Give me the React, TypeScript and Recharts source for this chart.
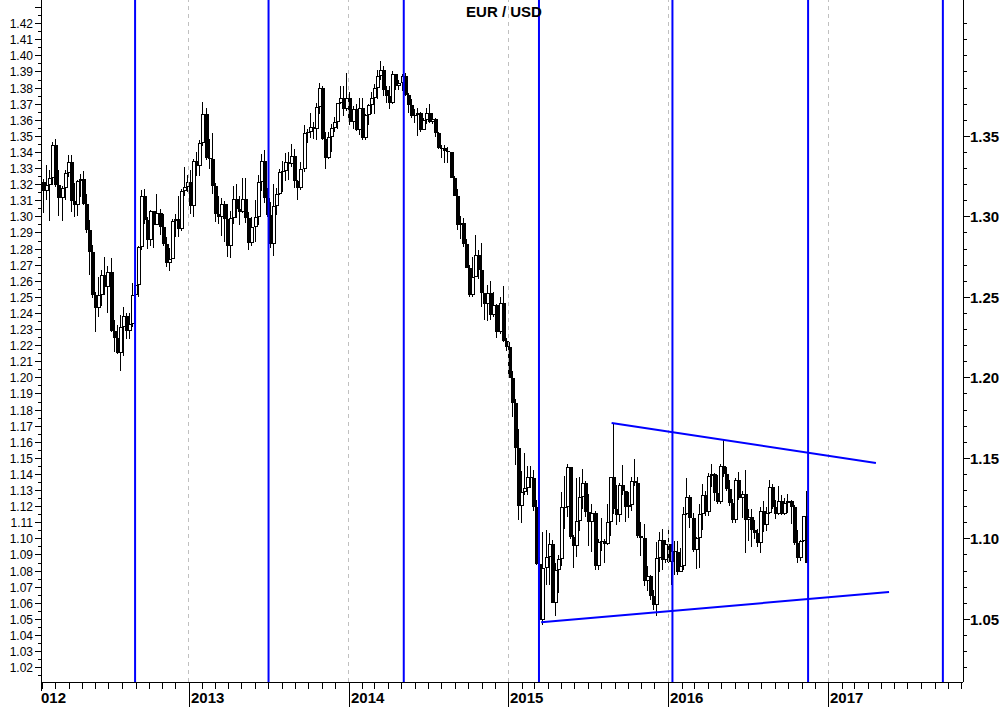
import React from 'react';
import { ComposedChart, Bar, XAxis, YAxis, ReferenceLine } from 'recharts';

// weekly EUR/USD candles, one row per week (Friday close): [high, low, close]
// a week opens where the previous one closed
const FIRST_WEEK = '2012-02-03';
const FIRST_OPEN = 1.3214;

const W2012 = [
  [1.3234, 1.3024, 1.3159], [1.3322, 1.3104, 1.3195], [1.3290, 1.2973, 1.3242], [1.3464, 1.3198, 1.3449],
  [1.3486, 1.3183, 1.3201], [1.3290, 1.3003, 1.3119], [1.3192, 1.2977, 1.3177], [1.3290, 1.3103, 1.3272],
  [1.3386, 1.3245, 1.3343], [1.3383, 1.3033, 1.3097], [1.3212, 1.3002, 1.3073], [1.3230, 1.3005, 1.3223],
  [1.3266, 1.3126, 1.3235], [1.3283, 1.3076, 1.3082], [1.3140, 1.2900, 1.2920], [1.2980, 1.2642, 1.2781],
  [1.2824, 1.2494, 1.2517], [1.2532, 1.2288, 1.2435], [1.2625, 1.2380, 1.2516], [1.2672, 1.2444, 1.2641],
  [1.2748, 1.2516, 1.2567], [1.2693, 1.2406, 1.2660], [1.2747, 1.2288, 1.2289], [1.2360, 1.2163, 1.2247],
  [1.2327, 1.2150, 1.2155], [1.2390, 1.2042, 1.2316], [1.2443, 1.2133, 1.2386], [1.2404, 1.2240, 1.2289],
  [1.2406, 1.2240, 1.2333], [1.2588, 1.2317, 1.2516], [1.2638, 1.2475, 1.2575], [1.2820, 1.2505, 1.2815],
  [1.3169, 1.2793, 1.3128], [1.3172, 1.2954, 1.2980], [1.3000, 1.2802, 1.2857], [1.3045, 1.2822, 1.3036],
  [1.3038, 1.2805, 1.2952], [1.3140, 1.2951, 1.3022], [1.3050, 1.2885, 1.2940], [1.3016, 1.2822, 1.2834],
  [1.2875, 1.2691, 1.2712], [1.2804, 1.2661, 1.2738], [1.2988, 1.2738, 1.2974], [1.3016, 1.2876, 1.2985],
  [1.3128, 1.2876, 1.2925], [1.3176, 1.2910, 1.3162], [1.3308, 1.3130, 1.3183], [1.3262, 1.3156, 1.3219],
];

const W2013 = [
  [1.3293, 1.3018, 1.3068], [1.3360, 1.3000, 1.3345], [1.3403, 1.3256, 1.3314], [1.3480, 1.3256, 1.3459],
  [1.3711, 1.3440, 1.3637], [1.3674, 1.3353, 1.3365], [1.3483, 1.3300, 1.3362], [1.3520, 1.3140, 1.3190],
  [1.3208, 1.2966, 1.3020], [1.3131, 1.2955, 1.3001], [1.3119, 1.2880, 1.3078], [1.3100, 1.2844, 1.2987],
  [1.3077, 1.2749, 1.2818], [1.3035, 1.2745, 1.2994], [1.3190, 1.2954, 1.3112], [1.3205, 1.2996, 1.3048],
  [1.3132, 1.2952, 1.3032], [1.3243, 1.3024, 1.3113], [1.3243, 1.2960, 1.2990], [1.3030, 1.2796, 1.2836],
  [1.2997, 1.2818, 1.2935], [1.3107, 1.2846, 1.2998], [1.3262, 1.2950, 1.3218], [1.3390, 1.3158, 1.3345],
  [1.3416, 1.3087, 1.3117], [1.3177, 1.2999, 1.3010], [1.3092, 1.2807, 1.2830], [1.3207, 1.2755, 1.3066],
  [1.3179, 1.3009, 1.3143], [1.3297, 1.3135, 1.3278], [1.3346, 1.3153, 1.3282], [1.3395, 1.3222, 1.3343],
  [1.3400, 1.3226, 1.3330], [1.3452, 1.3311, 1.3380], [1.3422, 1.3177, 1.3220], [1.3229, 1.3104, 1.3178],
  [1.3340, 1.3166, 1.3296], [1.3569, 1.3280, 1.3524], [1.3546, 1.3460, 1.3525], [1.3646, 1.3487, 1.3556],
  [1.3588, 1.3484, 1.3548], [1.3705, 1.3480, 1.3685], [1.3832, 1.3640, 1.3803], [1.3810, 1.3476, 1.3486],
  [1.3528, 1.3296, 1.3366], [1.3527, 1.3360, 1.3499], [1.3579, 1.3400, 1.3555], [1.3621, 1.3530, 1.3590],
  [1.3710, 1.3543, 1.3706], [1.3810, 1.3700, 1.3741], [1.3812, 1.3624, 1.3673], [1.3893, 1.3660, 1.3740],
];

const W2014 = [
  [1.3777, 1.3573, 1.3590], [1.3688, 1.3548, 1.3670], [1.3700, 1.3536, 1.3540], [1.3739, 1.3506, 1.3677],
  [1.3740, 1.3478, 1.3487], [1.3638, 1.3476, 1.3635], [1.3703, 1.3568, 1.3693], [1.3773, 1.3640, 1.3739],
  [1.3823, 1.3642, 1.3803], [1.3913, 1.3735, 1.3873], [1.3967, 1.3852, 1.3913], [1.3935, 1.3750, 1.3789],
  [1.3815, 1.3705, 1.3752], [1.3811, 1.3673, 1.3705], [1.3905, 1.3700, 1.3886], [1.3890, 1.3787, 1.3814],
  [1.3850, 1.3790, 1.3830], [1.3890, 1.3780, 1.3873], [1.3895, 1.3750, 1.3755], [1.3770, 1.3648, 1.3695],
  [1.3733, 1.3615, 1.3629], [1.3669, 1.3585, 1.3634], [1.3677, 1.3503, 1.3643], [1.3650, 1.3525, 1.3540],
  [1.3614, 1.3538, 1.3603], [1.3678, 1.3574, 1.3645], [1.3700, 1.3583, 1.3592], [1.3648, 1.3579, 1.3607],
  [1.3615, 1.3493, 1.3523], [1.3526, 1.3422, 1.3430], [1.3445, 1.3366, 1.3425], [1.3444, 1.3333, 1.3410],
  [1.3433, 1.3335, 1.3401], [1.3405, 1.3239, 1.3240], [1.3252, 1.3130, 1.3131], [1.3174, 1.2919, 1.2951],
  [1.3004, 1.2860, 1.2960], [1.2995, 1.2814, 1.2830], [1.2860, 1.2680, 1.2684], [1.2700, 1.2500, 1.2515],
  [1.2750, 1.2500, 1.2628], [1.2887, 1.2624, 1.2762], [1.2793, 1.2613, 1.2670], [1.2838, 1.2440, 1.2525],
  [1.2528, 1.2357, 1.2456], [1.2577, 1.2356, 1.2526], [1.2600, 1.2360, 1.2390], [1.2532, 1.2380, 1.2450],
  [1.2456, 1.2246, 1.2287], [1.2500, 1.2270, 1.2466], [1.2570, 1.2220, 1.2226], [1.2250, 1.2165, 1.2189],
];

const W2015 = [
  [1.2220, 1.1998, 1.2001], [1.2040, 1.1754, 1.1842], [1.1867, 1.1460, 1.1566], [1.1680, 1.1115, 1.1204],
  [1.1423, 1.1098, 1.1291], [1.1534, 1.1270, 1.1315], [1.1452, 1.1270, 1.1387], [1.1450, 1.1316, 1.1380],
  [1.1428, 1.1176, 1.1195], [1.1240, 1.0840, 1.0844], [1.0887, 1.0494, 1.0495], [1.1043, 1.0462, 1.0821],
  [1.1052, 1.0715, 1.0888], [1.1035, 1.0711, 1.0970], [1.0990, 1.0600, 1.0600], [1.0848, 1.0521, 1.0808],
  [1.0900, 1.0664, 1.0873], [1.1290, 1.0834, 1.1198], [1.1391, 1.1063, 1.1201], [1.1467, 1.1137, 1.1447],
  [1.1447, 1.1000, 1.1014], [1.1021, 1.0818, 1.0958], [1.1380, 1.0885, 1.1112], [1.1385, 1.1048, 1.1263],
  [1.1436, 1.1188, 1.1350], [1.1360, 1.1134, 1.1165], [1.1279, 1.0955, 1.1107], [1.1215, 1.0916, 1.1160],
  [1.1173, 1.0808, 1.0830], [1.0998, 1.0809, 1.0982], [1.1129, 1.0924, 1.0984], [1.1000, 1.0848, 1.0970],
  [1.1215, 1.0965, 1.1105], [1.1387, 1.1017, 1.1386], [1.1714, 1.1154, 1.1183], [1.1332, 1.1086, 1.1150],
  [1.1344, 1.1104, 1.1336], [1.1460, 1.1274, 1.1298], [1.1300, 1.1105, 1.1200], [1.1290, 1.1132, 1.1210],
  [1.1387, 1.1171, 1.1358], [1.1495, 1.1328, 1.1346], [1.1387, 1.1008, 1.1018], [1.1106, 1.0896, 1.1003],
  [1.1095, 1.0705, 1.0740], [1.0829, 1.0675, 1.0771], [1.0777, 1.0618, 1.0645], [1.0681, 1.0558, 1.0590],
  [1.0981, 1.0524, 1.0880], [1.1043, 1.0797, 1.0992], [1.1060, 1.0804, 1.0870], [1.0992, 1.0850, 1.0967],
];

const W2016 = [
  [1.1060, 1.0850, 1.0857], [1.0971, 1.0711, 1.0923], [1.0986, 1.0778, 1.0916], [1.0986, 1.0778, 1.0797],
  [1.0945, 1.0797, 1.0831], [1.1197, 1.0809, 1.1157], [1.1376, 1.1150, 1.1259], [1.1270, 1.1068, 1.1130],
  [1.1160, 1.0917, 1.0932], [1.1012, 1.0810, 1.1004], [1.1218, 1.0822, 1.1155], [1.1342, 1.1058, 1.1271],
  [1.1295, 1.1144, 1.1170], [1.1410, 1.1144, 1.1390], [1.1464, 1.1324, 1.1400], [1.1410, 1.1234, 1.1285],
  [1.1398, 1.1217, 1.1226], [1.1462, 1.1218, 1.1453], [1.1616, 1.1384, 1.1402], [1.1445, 1.1299, 1.1308],
  [1.1368, 1.1203, 1.1222], [1.1249, 1.1097, 1.1116], [1.1375, 1.1097, 1.1366], [1.1416, 1.1241, 1.1252],
  [1.1298, 1.1131, 1.1278], [1.1428, 1.0912, 1.1117], [1.1186, 1.0986, 1.1136], [1.1184, 1.0952, 1.1055],
  [1.1120, 1.1001, 1.1038], [1.1062, 1.0952, 1.0975], [1.1198, 1.0913, 1.1174], [1.1234, 1.1045, 1.1086],
  [1.1198, 1.1048, 1.1161], [1.1366, 1.1155, 1.1325], [1.1341, 1.1185, 1.1198], [1.1240, 1.1123, 1.1154],
  [1.1327, 1.1150, 1.1233], [1.1272, 1.1150, 1.1153], [1.1255, 1.1146, 1.1225], [1.1280, 1.1160, 1.1238],
  [1.1240, 1.1094, 1.1199], [1.1211, 1.0965, 1.0972], [1.1057, 1.0852, 1.0882], [1.0990, 1.0860, 1.0987],
  [1.1143, 1.0978, 1.1140], [1.1299, 1.0850, 1.0852],
];

// cycle lines, triangle and year grid
const CYCLE_DATES = ['2012-08-31', '2013-07-02', '2014-05-07', '2015-03-12', '2016-01-11', '2016-11-16', '2017-09-20'];
const YEAR_LINES = ['2013-01-01', '2014-01-01', '2015-01-01', '2016-01-01', '2017-01-01'];
const UPPER_LINE = [['2015-08-25', 1.1720], ['2017-04-20', 1.1471]];
const LOWER_LINE = [['2015-03-17', 1.0482], ['2017-05-20', 1.0670]];

const LEFT_LABELS = ['1.02', '1.03', '1.04', '1.05', '1.06', '1.07', '1.08', '1.09', '1.10', '1.11', '1.12', '1.13',
  '1.14', '1.15', '1.16', '1.17', '1.18', '1.19', '1.20', '1.21', '1.22', '1.23', '1.24', '1.25', '1.26', '1.27',
  '1.28', '1.29', '1.30', '1.31', '1.32', '1.33', '1.34', '1.35', '1.36', '1.37', '1.38', '1.39', '1.40', '1.41', '1.42'];
const RIGHT_LABELS = ['1.05', '1.10', '1.15', '1.20', '1.25', '1.30', '1.35'];

const Y_MIN = 1.0111;
const Y_MAX = 1.4347;
const FONT = '"Liberation Sans", Arial, sans-serif';
const PLOT_LEFT = 41;
const PLOT_RIGHT = 963;
const PLOT_BOTTOM = 682;

const ORIGIN = Date.UTC(2013, 0, 1);
const dayOf = (s: string) => (Date.parse(s) - ORIGIN) / 86400000;
const X_MIN = dayOf('2012-01-29');
const X_MAX = dayOf('2017-11-05');

const WEEKS = [...W2012, ...W2013, ...W2014, ...W2015, ...W2016];
const data = WEEKS.map(([high, low, close], i) => ({
  t: dayOf(FIRST_WEEK) + 7 * i,
  open: i === 0 ? FIRST_OPEN : WEEKS[i - 1][2],
  high,
  low,
  close,
}));

const monthTicks: number[] = [X_MIN];
for (let y = 2012; y <= 2017; y++) {
  for (let m = 0; m < 12; m++) {
    const d = (Date.UTC(y, m, 1) - ORIGIN) / 86400000;
    if (d > X_MIN + 2 && d <= X_MAX) monthTicks.push(d);
  }
}
const leftTicks: number[] = [];
for (let k = 203; k <= 286; k++) leftTicks.push(k / 200);
const rightTicks: number[] = [];
for (let k = 102; k <= 142; k++) rightTicks.push(k / 100);

function Candle(props: any) {
  const { x, y, width, height, payload } = props;
  if (!payload || height == null) return null;
  const { open, high, low, close } = payload;
  const top = Math.min(y, y + height);
  const h = Math.abs(height);
  const ppu = high > low ? h / (high - low) : 0;
  const c = Math.round(x + width / 2 - 0.5);
  const bTop = Math.round(top + (high - Math.max(open, close)) * ppu);
  let bBot = Math.round(top + (high - Math.min(open, close)) * ppu);
  if (bBot - bTop < 1) bBot = bTop + 1;
  const up = close >= open;
  return (
    <g>
      <rect x={c} y={Math.round(top)} width={1} height={Math.max(1, Math.round(top + h) - Math.round(top))} fill="#000" />
      <rect x={c - 1} y={bTop} width={4} height={bBot - bTop} fill="#000" />
      {up && bBot - bTop > 2 && <rect x={c} y={bTop + 1} width={2} height={bBot - bTop - 2} fill="#fff" />}
    </g>
  );
}

function XTick(props: any) {
  const { x, payload } = props;
  const v = payload.value;
  const px = Math.round(x);
  if (v === X_MIN) {
    return (
      <g>
        <rect x={PLOT_LEFT} y={PLOT_BOTTOM} width={1} height={9} fill="#000" />
        <text x={PLOT_LEFT} y={703} fontFamily={FONT} fontSize={15} fontWeight="bold" fill="#000">012</text>
      </g>
    );
  }
  const d = new Date(ORIGIN + v * 86400000);
  const isYear = d.getUTCMonth() === 0;
  return (
    <g>
      <rect x={px} y={PLOT_BOTTOM} width={1} height={isYear ? 25 : 7} fill="#000" />
      {isYear && (
        <text x={px + 2} y={703} fontFamily={FONT} fontSize={15} fontWeight="bold" fill="#000">
          {d.getUTCFullYear()}
        </text>
      )}
    </g>
  );
}

function LeftTick(props: any) {
  const { y, payload } = props;
  const k = Math.round(payload.value * 200);
  const major = k % 2 === 0;
  const py = Math.round(y - 0.5);
  const label = LEFT_LABELS.find((s) => Math.round(parseFloat(s) * 200) === k);
  const len = major ? 6 : 3;
  return (
    <g>
      <rect x={PLOT_LEFT - len} y={py} width={len} height={1} fill="#000" />
      {label && (
        <text x={33} y={py + 0.5} dy="0.36em" textAnchor="end" fontFamily={FONT} fontSize={12} fill="#000">
          {label}
        </text>
      )}
    </g>
  );
}

function RightTick(props: any) {
  const { y, payload } = props;
  const k = Math.round(payload.value * 100);
  const label = RIGHT_LABELS.find((s) => Math.round(parseFloat(s) * 100) === k);
  const py = Math.round(y - 0.5);
  const len = label ? 7 : 4;
  return (
    <g>
      <rect x={PLOT_RIGHT} y={py} width={len} height={1} fill="#000" />
      {label && (
        <text x={970} y={py + 0.5} dy="0.36em" fontFamily={FONT} fontSize={15} fontWeight="bold" fill="#000">
          {label}
        </text>
      )}
    </g>
  );
}

export default function App() {
  return (
    <div style={{ position: 'absolute', left: 0, top: 0, width: 1004, height: 707, background: '#fff' }}>
      <ComposedChart width={1004} height={707} data={data} margin={{ top: 0, right: 0, bottom: 0, left: 0 }}>
        <XAxis
          type="number"
          dataKey="t"
          domain={[X_MIN, X_MAX]}
          allowDataOverflow
          ticks={monthTicks}
          interval={0}
          height={25}
          tickLine={false}
          tick={<XTick />}
          axisLine={{ stroke: '#000', shapeRendering: 'crispEdges' }}
        />
        <YAxis
          type="number"
          domain={[Y_MIN, Y_MAX]}
          allowDataOverflow
          ticks={leftTicks}
          interval={0}
          width={41}
          tickLine={false}
          tick={<LeftTick />}
          axisLine={{ stroke: '#000', shapeRendering: 'crispEdges' }}
        />
        <YAxis
          yAxisId="right"
          orientation="right"
          type="number"
          domain={[Y_MIN, Y_MAX]}
          allowDataOverflow
          ticks={rightTicks}
          interval={0}
          width={41}
          tickLine={false}
          tick={<RightTick />}
          axisLine={{ stroke: '#000', shapeRendering: 'crispEdges' }}
        />
        {YEAR_LINES.map((d) => (
          <ReferenceLine key={d} x={dayOf(d)} stroke="#c0c0c0" strokeDasharray="4 4" shapeRendering="crispEdges" />
        ))}
        <Bar dataKey={(d: any) => [d.low, d.high]} barSize={2} isAnimationActive={false} shape={Candle} />
        {CYCLE_DATES.map((d) => (
          <ReferenceLine key={d} x={dayOf(d)} stroke="#0000ff" strokeWidth={2} />
        ))}
        <ReferenceLine
          segment={[{ x: dayOf(UPPER_LINE[0][0] as string), y: UPPER_LINE[0][1] }, { x: dayOf(UPPER_LINE[1][0] as string), y: UPPER_LINE[1][1] }]}
          stroke="#0000ff"
          strokeWidth={2}
        />
        <ReferenceLine
          segment={[{ x: dayOf(LOWER_LINE[0][0] as string), y: LOWER_LINE[0][1] }, { x: dayOf(LOWER_LINE[1][0] as string), y: LOWER_LINE[1][1] }]}
          stroke="#0000ff"
          strokeWidth={2}
        />
      </ComposedChart>
      <div
        style={{
          position: 'absolute',
          left: 404,
          top: 4,
          width: 200,
          textAlign: 'center',
          fontFamily: FONT,
          fontSize: 15,
          fontWeight: 'bold',
          lineHeight: '15px',
          color: '#000',
        }}
      >
        EUR / USD
      </div>
    </div>
  );
}
